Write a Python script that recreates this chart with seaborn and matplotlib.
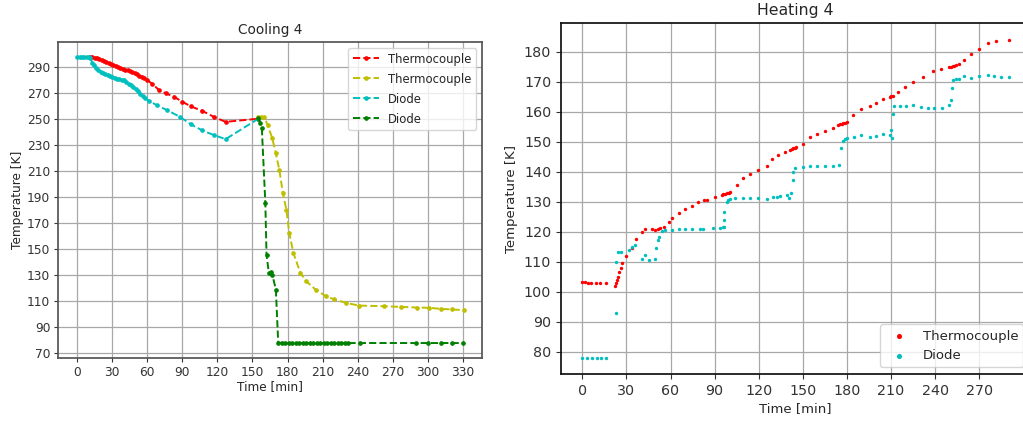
import numpy as np
import pandas as pd
import matplotlib
matplotlib.use("Agg")
import matplotlib.pyplot as plt
import seaborn as sns

# ---------------- Cooling 4 data ----------------
cool_tc1_t = [11, 13, 15, 17, 19, 21, 23, 25, 27, 29, 31, 33, 35, 37, 39, 41, 43, 45,
              47, 49, 51, 53, 55, 57, 60, 64, 70, 76, 83, 90, 97, 107, 117, 127, 155]
cool_tc1_T = [297.4, 297.2, 296.8, 296.4, 295.9, 295.2, 294.5, 293.7, 293.0, 292.2,
              291.4, 290.6, 289.9, 289.2, 288.5, 287.8, 287.1, 286.4, 285.7, 285.0,
              284.1, 283.2, 282.3, 281.3, 279.5, 277.0, 272.0, 269.5, 266.8, 263.0,
              259.6, 256.0, 251.4, 247.6, 250.0]

cool_tc2_t = [155, 157, 160, 163, 167, 170, 173, 176, 179, 181.5, 185, 191, 196, 204,
              213, 220, 230, 241, 263, 277, 291, 301, 311, 321, 331]
cool_tc2_T = [251.0, 251.5, 251.4, 245.0, 234.8, 223.3, 210.6, 192.7, 180.0, 162.0,
              146.7, 131.4, 125.0, 118.6, 113.5, 111.0, 108.4, 106.3, 105.8, 105.3,
              104.8, 104.6, 103.8, 103.3, 102.8]

cool_d1_t = [0, 2, 4, 6, 8, 10, 11, 13, 14, 16, 18, 20, 22, 24, 26, 28, 30, 32, 34, 36,
             38, 40, 42, 44, 46, 48, 50, 52, 54, 56, 58, 61, 68, 77, 88, 97, 107, 117,
             127, 155]
cool_d1_T = [297.5, 297.5, 297.5, 297.5, 297.4, 297.2, 297.0, 293.0, 291.0, 289.0,
             287.5, 286.3, 285.2, 284.2, 283.3, 282.6, 282.0, 281.4, 280.9, 280.4,
             279.9, 279.4, 278.2, 277.0, 275.6, 274.2, 272.8, 271.0, 269.0, 267.3,
             265.8, 264.0, 260.4, 256.5, 251.4, 245.8, 241.0, 237.4, 234.3, 250.0]

cool_d2_t = [155, 156.5, 158, 161, 162, 164, 165.5, 167, 170, 172, 175, 178, 181,
             184, 187, 190, 193, 196, 199, 202, 205, 208, 211, 214, 217, 220, 223,
             226, 229, 232, 242, 290, 300, 311, 321, 330]
cool_d2_T = [250.2, 247.0, 242.5, 185.0, 145.4, 131.4, 131.9, 130.0, 118.6, 77.8,
             77.6, 77.6, 77.5, 77.5, 77.5, 77.5, 77.5, 77.5, 77.5, 77.5, 77.5, 77.5,
             77.5, 77.5, 77.5, 77.5, 77.5, 77.5, 77.5, 77.5, 77.5, 77.5, 77.5,
             77.5, 77.5, 77.5]

# ---------------- Heating 4 data ----------------
heat_tc_t = [0, 2, 4, 6, 9, 12, 16, 22.5, 23, 23.5, 24, 25, 26, 27, 30, 33.9, 36.2,
             40.7, 42.9, 47.5, 49.7, 51.3, 53, 55.4, 58.8, 61, 65.5, 70, 74.6, 79,
             82.5, 84.7, 90.4, 95, 96, 97, 98.3, 99.5, 100.6, 105, 109.6, 114, 119.8,
             125.4, 128.8, 133.3, 137.9, 141.2, 142.5, 143.5, 144.5, 145.3, 150.3,
             154.8, 159.3, 165, 170.6, 174, 175, 176.3, 177.5, 178.5, 179.7, 184.2,
             189.8, 195.5, 200, 204.5, 209, 210, 211.3, 214.7, 219.2, 224.9, 231.6,
             238.4, 244, 249.7, 251, 252, 253, 254.2, 256.5, 259.9, 264.4, 270,
             275.7, 281.4, 289.9]
heat_tc_T = [103.1, 103.1, 103.0, 103.0, 103.0, 103.0, 102.8, 101.8, 103.0, 104.0,
             105.0, 106.5, 108.0, 109.5, 111.9, 114.4, 117.4, 120.0, 120.8, 120.8,
             120.6, 120.8, 121.1, 121.7, 123.3, 124.4, 126.1, 127.4, 128.6, 130.0,
             130.6, 130.6, 131.7, 132.2, 132.4, 132.6, 132.8, 133.0, 133.3, 135.6,
             137.8, 139.4, 140.6, 141.9, 144.1, 145.6, 146.7, 147.2, 147.5, 147.8,
             148.0, 148.3, 149.4, 151.7, 152.6, 153.7, 154.7, 155.6, 155.8, 155.9,
             156.1, 156.3, 156.7, 158.9, 160.8, 161.9, 163.0, 164.1, 165.0, 165.1,
             165.2, 166.7, 168.1, 170.0, 171.7, 173.6, 174.4, 175.0, 175.1, 175.2,
             175.4, 175.6, 176.1, 177.4, 179.4, 180.8, 182.8, 183.7, 184.1]

heat_d_t = [0, 3.4, 6.8, 10.2, 12.4, 15.8, 22.6, 22.6, 24.1, 26, 31.6, 33.9, 35.5,
            40.7, 42.9, 45.2, 49.7, 50.4, 51.5, 52.4, 54.2, 56.5, 61, 65.5, 70, 74.5,
            80.2, 82.4, 89.2, 93.8, 96, 96.5, 96.5, 96.5, 98.3, 99.4, 100.6, 104,
            109.6, 114, 119.8, 125.4, 130, 132.2, 134.5, 139, 140.8, 142, 143, 143.5,
            144.6, 150.3, 154.8, 159.3, 165, 170.6, 174.7, 175.6, 177.4, 178.5, 180,
            184.6, 189.8, 195.5, 200, 204.5, 209.5, 210.2, 210.8, 211.3, 211.8, 215.8,
            220.3, 224.9, 230.5, 235, 239.5, 244.7, 249.7, 250.8, 251.5, 252.4, 254.2,
            256.5, 259.9, 264.4, 270, 275.7, 280.2, 284.7, 290]
heat_d_T = [77.8, 77.8, 77.8, 77.8, 77.8, 77.8, 92.8, 110.0, 113.3, 113.1, 113.9,
            115.0, 115.6, 110.8, 112.2, 110.6, 110.8, 114.4, 117.2, 118.3, 120.3,
            120.6, 120.6, 120.8, 120.8, 120.8, 120.8, 120.8, 121.1, 121.1, 121.4,
            121.7, 123.9, 126.7, 130.0, 130.6, 130.8, 131.1, 131.3, 131.3, 131.1,
            130.8, 131.7, 131.7, 132.0, 132.2, 131.1, 133.0, 137.2, 140.0, 141.1,
            141.7, 141.9, 141.9, 141.9, 141.9, 142.2, 147.8, 150.3, 150.8, 151.1,
            151.7, 152.2, 151.7, 151.9, 152.6, 152.2, 153.9, 151.4, 159.4, 161.9,
            161.9, 161.9, 162.2, 161.7, 161.4, 161.1, 161.4, 162.2, 163.9, 167.8,
            170.6, 170.8, 170.8, 171.9, 171.1, 171.9, 172.2, 171.9, 171.7, 171.7]

cool_xticks = list(range(0, 331, 30))
cool_yticks = list(range(70, 291, 20))
heat_xticks = list(range(0, 271, 30))
heat_yticks = list(range(80, 181, 10))

RED = (1.0, 0.0, 0.0)
YEL = (0.75, 0.75, 0.0)
CYA = (0.0, 0.75, 0.75)
GRN = (0.0, 0.5, 0.0)

# ---------------- styling ----------------
sns.set_theme(style="ticks")
plt.rcParams['font.family'] = ['DejaVu Sans']
plt.rcParams.update({
    "axes.edgecolor": "#333333",
    "xtick.color": "#333333",
    "ytick.color": "#333333",
    "grid.color": "#a8a8a8",
    "grid.linewidth": 0.9,
})

fig = plt.figure(figsize=(10.23, 4.23), dpi=100)
ax1 = fig.add_axes([0.0567, 0.1537, 0.4145, 0.747])
ax2 = fig.add_axes([0.5484, 0.1158, 0.4585, 0.829])

line_kw = dict(linestyle="--", marker=".", markersize=5.5, linewidth=1.4,
               sort=False, estimator=None, markeredgewidth=0.5)
sns.lineplot(x=cool_tc1_t, y=cool_tc1_T, color=RED, markeredgecolor=RED,
             label="Thermocouple", ax=ax1, **line_kw)
sns.lineplot(x=cool_tc2_t, y=cool_tc2_T, color=YEL, markeredgecolor=YEL,
             label="Thermocouple", ax=ax1, **line_kw)
sns.lineplot(x=cool_d1_t, y=cool_d1_T, color=CYA, markeredgecolor=CYA,
             label="Diode", ax=ax1, **line_kw)
sns.lineplot(x=cool_d2_t, y=cool_d2_T, color=GRN, markeredgecolor=GRN,
             label="Diode", ax=ax1, **line_kw)

ax1.set_xlim(-16.5, 346.5)
ax1.set_ylim(66.0, 309.0)
ax1.set_xticks(cool_xticks)
ax1.set_yticks(cool_yticks)
ax1.grid(True)
ax1.tick_params(labelsize=8.8, length=3, width=0.8, pad=2.5)
ax1.set_title("Cooling 4", fontsize=9.8)
ax1.set_xlabel("Time [min]", fontsize=8.7, labelpad=1)
ax1.set_ylabel("Temperature [K]", fontsize=8.7, labelpad=2)
ax1.legend(loc="upper right", fontsize=8.4, frameon=True, handlelength=2.2,
           labelspacing=0.6)
for sp in ax1.spines.values():
    sp.set_visible(True)
    sp.set_color("#555555")

sns.scatterplot(x=heat_tc_t, y=heat_tc_T, color=RED, marker="o", s=6, linewidth=0,
                label="Thermocouple", ax=ax2)
sns.scatterplot(x=heat_d_t, y=heat_d_T, color=CYA, marker="o", s=6, linewidth=0,
                label="Diode", ax=ax2)
ax2.set_xlim(-14.5, 304.5)
ax2.set_ylim(72.5, 189.5)
ax2.set_xticks(heat_xticks)
ax2.set_yticks(heat_yticks)
ax2.grid(True)
ax2.tick_params(labelsize=10.3, length=3.5, width=0.8)
ax2.set_title("Heating 4", fontsize=11.3)
ax2.set_xlabel("Time [min]", fontsize=9.5, labelpad=3)
ax2.set_ylabel("Temperature [K]", fontsize=9.5, labelpad=4)
ax2.legend(loc="lower right", fontsize=9.5, frameon=True, markerscale=1.5)
for sp in ax2.spines.values():
    sp.set_visible(True)
    sp.set_color("#111111")

fig.savefig("out.png", dpi=100)
